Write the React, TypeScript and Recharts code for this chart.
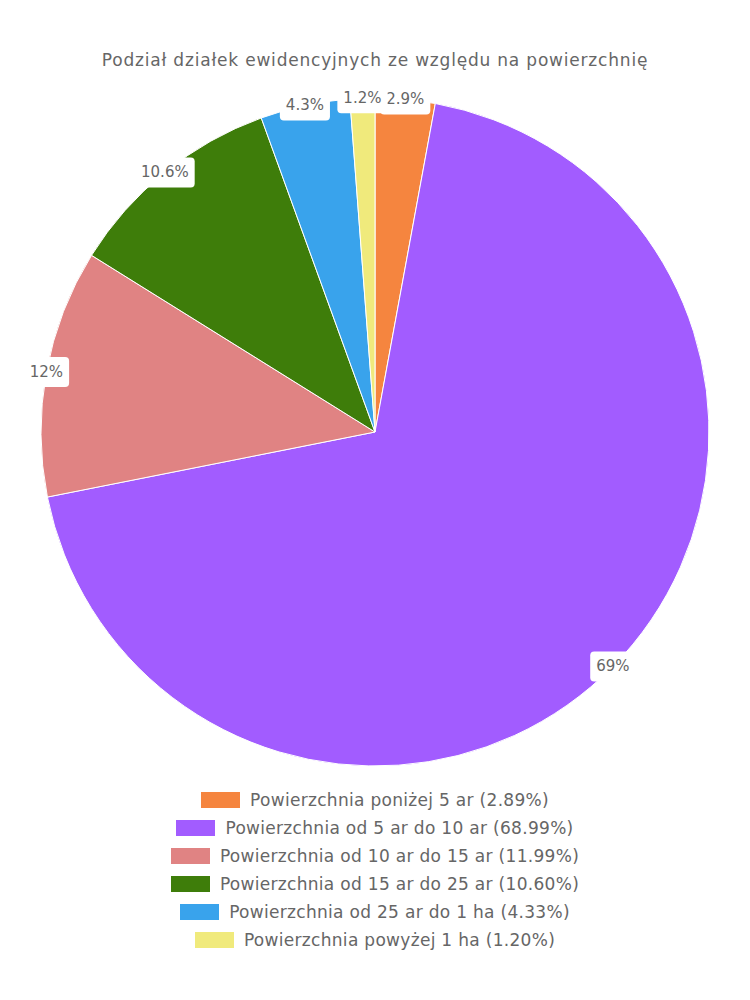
import React from "react";
import { PieChart, Pie, Cell, Legend } from "recharts";

const categories = [
  "Powierzchnia poniżej 5 ar",
  "Powierzchnia od 5 ar do 10 ar",
  "Powierzchnia od 10 ar do 15 ar",
  "Powierzchnia od 15 ar do 25 ar",
  "Powierzchnia od 25 ar do 1 ha",
  "Powierzchnia powyżej 1 ha",
];
const values = [2.89, 68.99, 11.99, 10.6, 4.33, 1.2];
const sliceLabels = ["2.9%", "69%", "12%", "10.6%", "4.3%", "1.2%"];
const legendLabels = ["(2.89%)", "(68.99%)", "(11.99%)", "(10.60%)", "(4.33%)", "(1.20%)"];
const colors = ["#f5853f", "#a25cff", "#e08383", "#3e7d0a", "#39a3ec", "#f0ea7c"];

const data = categories.map((name, i) => ({ name, value: values[i], label: sliceLabels[i] }));

const FONT = "'DejaVu Sans', 'Open Sans', sans-serif";
const RAD = Math.PI / 180;
const LABEL_SIZE = 15;

const textWidth = (s: string) =>
  s.split("").reduce((acc, ch) => acc + (ch === "." ? 0.318 : ch === "%" ? 0.95 : 0.636), 0) * LABEL_SIZE;

const renderLabel = (props: any) => {
  const { cx, cy, midAngle, outerRadius, index } = props;
  const x = cx + outerRadius * Math.cos(-midAngle * RAD);
  const y = cy + outerRadius * Math.sin(-midAngle * RAD);
  const text = sliceLabels[index];
  const w = textWidth(text) + 12;
  const h = 30;
  return (
    <g>
      <rect x={x - w / 2} y={y - h / 2} width={w} height={h} rx={4} ry={4} fill="#ffffff" />
      <text x={x} y={y} textAnchor="middle" dominantBaseline="central" fill="#666" fontSize={LABEL_SIZE} fontFamily={FONT}>
        {text}
      </text>
    </g>
  );
};

const renderLegend = () => (
  <div style={{ display: "flex", flexDirection: "column", alignItems: "center", fontFamily: FONT }}>
    {categories.map((c, i) => (
      <div key={c} style={{ display: "flex", alignItems: "center", height: 28 }}>
        <span style={{ display: "inline-block", width: 39, height: 16, background: colors[i], marginRight: 10 }} />
        <span style={{ color: "#666", fontSize: 17, letterSpacing: 0.3 }}>{c} {legendLabels[i]}</span>
      </div>
    ))}
  </div>
);

export default function App() {
  return (
    <div style={{ position: "relative", width: 750, height: 1000, margin: -8, background: "#fff" }}>
      <PieChart width={750} height={1000} margin={{ top: 0, right: 0, bottom: 0, left: 0 }}>
        <text x={375} y={60} textAnchor="middle" dominantBaseline="central" fill="#666" fontSize={17} letterSpacing={0.8} fontFamily={FONT}>
          Podział działek ewidencyjnych ze względu na powierzchnię
        </text>
        <Pie
          data={data}
          dataKey="value"
          nameKey="name"
          cx={375}
          cy={432}
          outerRadius={334}
          startAngle={90}
          endAngle={-270}
          stroke="#ffffff"
          strokeWidth={1}
          label={renderLabel}
          labelLine={false}
          isAnimationActive={false}
        >
          {data.map((d, i) => (
            <Cell key={d.name} fill={colors[i]} />
          ))}
        </Pie>
        <Legend content={renderLegend} wrapperStyle={{ top: 786, left: 0, width: 750 }} />
      </PieChart>
    </div>
  );
}
